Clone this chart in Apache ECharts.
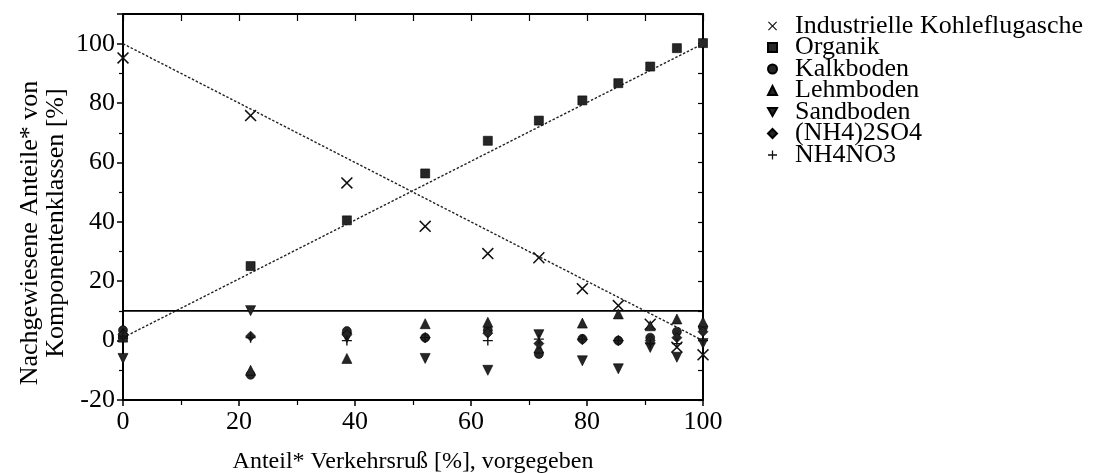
<!DOCTYPE html>
<html>
<head>
<meta charset="utf-8">
<script src="https://cdn.jsdelivr.net/npm/echarts@6/dist/echarts.min.js"></script>
<style>
  html, body { margin: 0; padding: 0; background: #fff; }
  #chart { width: 1097px; height: 473px; }
</style>
</head>
<body>
<div id="chart"></div>
<script>
// Vorgegebener Anteil Verkehrsruß [%] je Mischprobe
const anteilRuss = [0, 22, 38.6, 52.1, 62.9, 71.7, 79.2, 85.4, 90.9, 95.5, 100];

// Nachgewiesene Anteile der Komponentenklassen [%]
const kohleflugasche = [95.2, 75.8, 53.1, 38.5, 29.3, 27.9, 17.5, 11.8, 5.5, -2.2, -4.8];
const organik        = [1.0, 25.1, 40.5, 56.3, 67.3, 74.1, 80.9, 86.7, 92.3, 98.5, 100.2];
const kalkboden      = [3.5, -11.5, 3.2, 1.0, 3.5, -4.5, 0.6, 0.0, 1.0, 3.0, 4.5];
const lehmboden      = [2.5, -10.0, -6.0, 5.7, 6.2, -2.5, 5.9, 9.0, 5.0, 7.3, 6.3];
const sandboden      = [-6.0, 10.1, 1.0, -6.0, -10.0, 2.0, -6.8, -9.5, -2.3, -5.6, -1.0];
const nh4_2so4       = [2.0, 1.5, 2.0, 1.0, 2.5, -1.0, 0.3, 0.0, 0.0, 1.0, 3.0];
const nh4no3         = [1.5, 1.0, 0.0, 1.0, 0.0, 0.5, 0.5, 0.0, -1.0, -1.0, 0.0];

// Ausgleichsgeraden und Nachweisgrenze
const fitX = [0, 100];
const kohleFit = [100, 0];
const organikFit = [1, 100];
const grenze = 10;

// Achsenbereiche
const xTicks = { min: 0, max: 100, step: 20 };
const yTicks = { min: -20, max: 110, step: 20 };

const FONT = 'Liberation Serif';

const SYM = {
  kreuz: 'path://M0,0.9 L0.9,0 L5,4.1 L9.1,0 L10,0.9 L5.9,5 L10,9.1 L9.1,10 L5,5.9 L0.9,10 L0,9.1 L4.1,5 Z',
  plus: 'path://M4.3,0 L5.7,0 L5.7,4.3 L10,4.3 L10,5.7 L5.7,5.7 L5.7,10 L4.3,10 L4.3,5.7 L0,5.7 L0,4.3 L4.3,4.3 Z',
  dreieckAb: 'path://M0,0 L10,0 L5,9 Z'
};

function pts(ys) { return anteilRuss.map((x, i) => [x, ys[i]]); }
function linePts(ys) { return fitX.map((x, i) => [x, ys[i]]); }

const markerStyle = { color: '#262626', borderColor: '#000', borderWidth: 0.6, opacity: 1 };

function scatter(name, ys, symbol, size, style) {
  return {
    name, type: 'scatter', data: pts(ys), symbol, symbolSize: size,
    itemStyle: style || markerStyle, z: 5
  };
}

const fitLine = { color: '#222', width: 1.4, type: [2.5, 1.8] };

const series = [
  { name: 'fitKohle', type: 'line', data: linePts(kohleFit), symbol: 'none',
    lineStyle: fitLine, z: 2, silent: true },
  { name: 'fitOrganik', type: 'line', data: linePts(organikFit), symbol: 'none',
    lineStyle: fitLine, z: 2, silent: true },
  { name: 'grenze', type: 'line', data: fitX.map(x => [x, grenze]), symbol: 'none',
    lineStyle: { color: '#000', width: 1.8 }, z: 3, silent: true },
  scatter('Industrielle Kohleflugasche', kohleflugasche, SYM.kreuz, 12, { color: '#111', opacity: 1 }),
  scatter('Organik', organik, 'rect', 9),
  scatter('Kalkboden', kalkboden, 'circle', 9),
  scatter('Lehmboden', lehmboden, 'triangle', 10),
  scatter('Sandboden', sandboden, SYM.dreieckAb, 10),
  scatter('(NH4)2SO4', nh4_2so4, 'diamond', 10),
  scatter('NH4NO3', nh4no3, SYM.plus, 10, { color: '#111', opacity: 1 })
];

const tickLabel = { fontFamily: FONT, fontSize: 26, color: '#000' };
const axisLine = { show: true, onZero: false, lineStyle: { color: '#000', width: 2 } };

const option = {
  animation: false,
  backgroundColor: '#fff',
  grid: { left: 123, right: 394, top: 14, bottom: 73, containLabel: false, outerBoundsMode: 'none' },
  legend: {
    orient: 'vertical', left: 762, top: 8,
    itemWidth: 9, itemHeight: 9, itemGap: -4.5,
    data: ['Industrielle Kohleflugasche', 'Organik', 'Kalkboden', 'Lehmboden',
           'Sandboden', '(NH4)2SO4', 'NH4NO3'],
    textStyle: { fontFamily: FONT, fontSize: 26, color: '#000', padding: [0, 0, 0, 13] },
    selectedMode: false
  },
  xAxis: [
    {
      type: 'value', position: 'bottom', min: xTicks.min, max: xTicks.max, interval: xTicks.step,
      axisLine,
      axisTick: { inside: false, length: 6, lineStyle: { color: '#000', width: 1.5 } },
      minorTick: { show: true, splitNumber: 2, length: 5, lineStyle: { color: '#000', width: 1.2 } },
      axisLabel: Object.assign({ margin: 9 }, tickLabel),
      splitLine: { show: false },
      name: 'Anteil* Verkehrsruß [%], vorgegeben', nameLocation: 'middle', nameGap: 50,
      nameTextStyle: { fontFamily: FONT, fontSize: 24, color: '#000' }
    },
    {
      type: 'value', position: 'top', min: xTicks.min, max: xTicks.max, interval: 10,
      axisLine,
      axisTick: { inside: true, length: 7, lineStyle: { color: '#000', width: 1.2 } },
      axisLabel: { show: false }, splitLine: { show: false }
    }
  ],
  yAxis: [
    {
      type: 'value', position: 'left', min: yTicks.min, max: yTicks.max, interval: yTicks.step,
      axisLine,
      axisTick: { inside: false, length: 6, lineStyle: { color: '#000', width: 1.5 } },
      minorTick: { show: true, splitNumber: 2, length: 4, lineStyle: { color: '#000', width: 1.2 } },
      axisLabel: Object.assign({
        margin: 8,
        formatter: v => (v > 100 ? '' : String(v))
      }, tickLabel),
      splitLine: { show: false }
    },
    {
      type: 'value', position: 'right', min: yTicks.min, max: yTicks.max, interval: 10,
      axisLine,
      axisTick: { inside: true, length: 5, lineStyle: { color: '#000', width: 1.2 } },
      axisLabel: { show: false }, splitLine: { show: false }
    }
  ],
  graphic: [
    {
      type: 'text', x: 30, y: 233, rotation: Math.PI / 2,
      style: { text: 'Nachgewiesene Anteile* von', font: '26px "Liberation Serif"', fill: '#000',
               textAlign: 'center', textVerticalAlign: 'middle' }
    },
    {
      type: 'text', x: 56, y: 223, rotation: Math.PI / 2,
      style: { text: 'Komponentenklassen [%]', font: '26px "Liberation Serif"', fill: '#000',
               textAlign: 'center', textVerticalAlign: 'middle' }
    }
  ],
  series
};

echarts.init(document.getElementById('chart'), null, { renderer: 'canvas' }).setOption(option);
</script>
</body>
</html>
